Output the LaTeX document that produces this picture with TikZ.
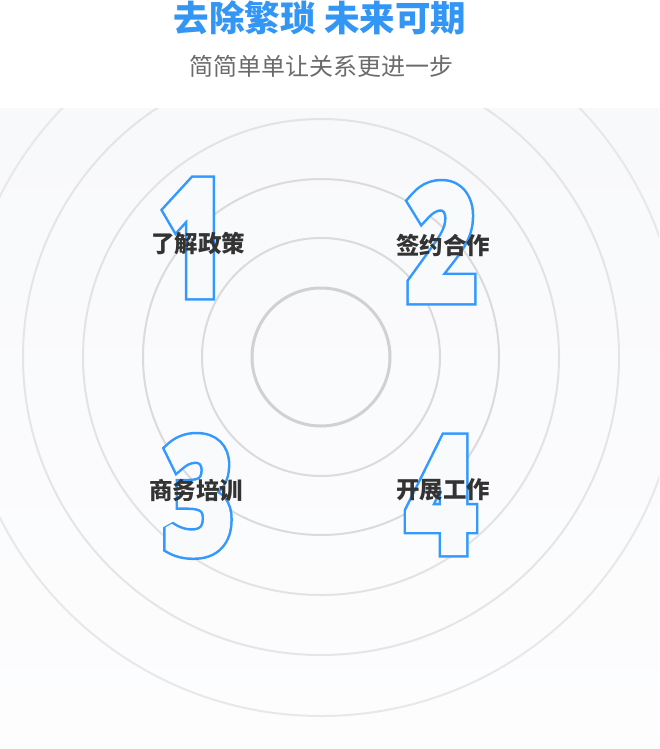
\documentclass[tikz,border=0pt]{standalone}
\usepackage{fontspec}
\usepackage{xcolor}
\usepackage{tikz}
\usetikzlibrary{positioning,calc}

\newfontfamily\cjk{Noto Sans CJK SC}
\newfontfamily\digitfont[FakeStretch=0.73]{Open Sans}

\definecolor{titleblue}{HTML}{3396F5}
\definecolor{digitblue}{HTML}{3399FF}
\definecolor{labelgray}{HTML}{333333}
\definecolor{subgray}{HTML}{6B6B6B}
\definecolor{panelbg}{HTML}{F8F9FB}
\definecolor{panelend}{HTML}{FDFDFE}
\definecolor{digitfill}{HTML}{F9FAFC}

% hollow, heavier glyphs: a wide blue stroke, then a narrower stroke in the panel colour
\newcommand{\hollow}[1]{%
  \rlap{\color{digitblue}\special{pdf:literal direct 2 Tr 13 w 0 j 2 M}#1}%
  {\color{digitfill}\special{pdf:literal direct 2 Tr 8 w 0 j 2 M}#1}%
  \special{pdf:literal direct 0 Tr}}

\begin{document}
\begin{tikzpicture}[
    x=1pt, y=-1pt,
    ring/.style={draw=#1, line width=2pt},
    digit/.style={inner sep=0pt, anchor=base, font=\digitfont\bfseries\fontsize{157}{157}\selectfont},
    label/.style={inner sep=0pt, text=labelgray, font=\cjk\bfseries\fontsize{23.5}{23.5}\selectfont},
    title/.style={inner sep=0pt, text=titleblue, font=\cjk\bfseries\fontsize{35.5}{35.5}\selectfont},
    subtitle/.style={inner sep=0pt, text=subgray, font=\cjk\fontsize{24}{24}\selectfont}
]
    \useasboundingbox (0,0) rectangle (659,749);
    \fill[white] (0,0) rectangle (659,749);
    \shade[top color=panelbg, bottom color=panelend] (0,109) rectangle (659,749);

    \coordinate (c) at (321,357);
    \begin{scope}
        \clip (0,109) rectangle (659,749);
        \draw[ring=black!9] (c) circle[radius=359];
        \draw[ring=black!10] (c) circle[radius=298];
        \draw[ring=black!11] (c) circle[radius=238];
        \draw[ring=black!14] (c) circle[radius=178];
        \draw[ring=black!14] (c) circle[radius=119];
        \draw[draw=black!18, line width=3pt] (c) circle[radius=69];
    \end{scope}

    \node[title] (title) at (320,18) {去除繁琐 未来可期};
    \node[subtitle] (subtitle) at (321,66) {简简单单让关系更进一步};

    \node[digit] (one) at (194,294) {\hollow{1}};
    \node[digit] (two) at (441,299) {\hollow{2}};
    \node[digit] (three) at (198,552) {\hollow{3}};
    \node[digit] (four) at (441,551) {\hollow{4}};

    \node[label] (policy) at (198,244) {了解政策};
    \node[label] (sign) at (443,245) {签约合作};
    \node[label] (train) at (196,490) {商务培训};
    \node[label] (work) at (443,490) {开展工作};
\end{tikzpicture}
\end{document}
